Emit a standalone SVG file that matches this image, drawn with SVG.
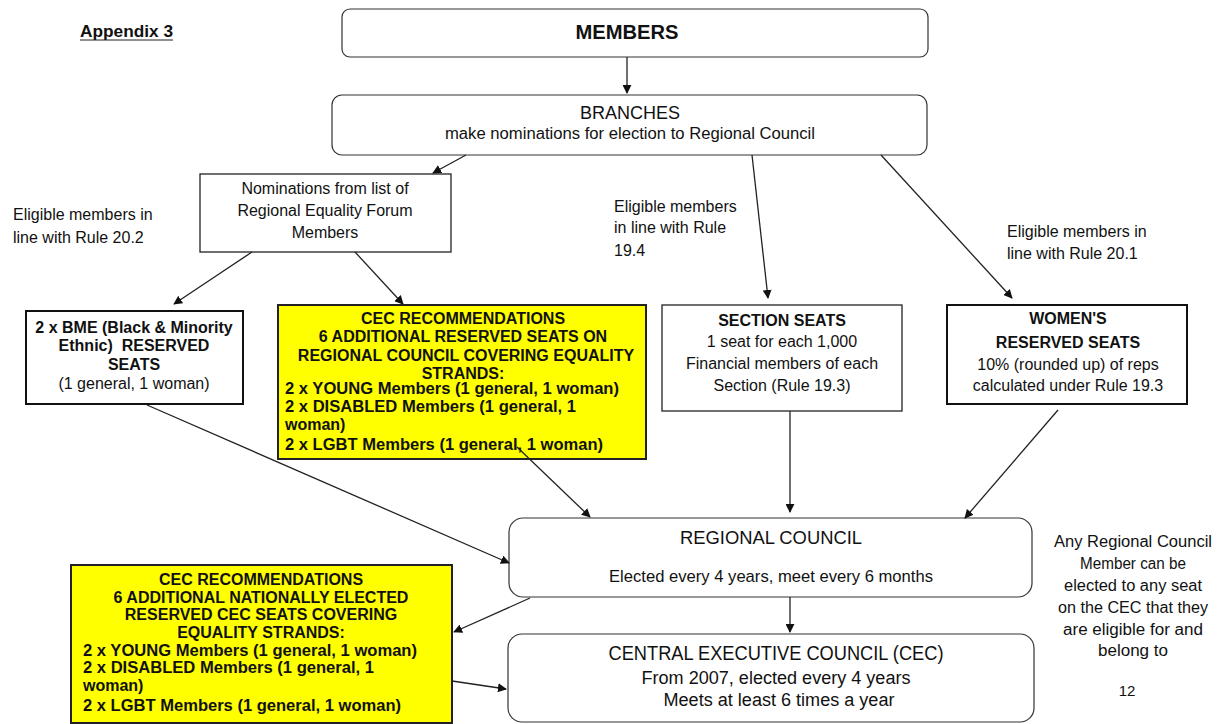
<svg xmlns="http://www.w3.org/2000/svg" width="1227" height="724" viewBox="0 0 1227 724">
<style>
  text { font-family: "Liberation Sans", Arial, sans-serif; fill: #111; }
  .b { font-weight: bold; }
  .c { text-anchor: middle; }
  .t14 { font-size: 16px; }
  .box { fill: #fff; stroke: #222; stroke-width: 1.3; }
  .boxT { fill: #fff; stroke: #111; stroke-width: 2; }
  .yel { fill: #ffff00; stroke: #222; stroke-width: 2; }
  .rbox { fill: #fff; stroke: #333; stroke-width: 1.2; }
  .conn line { stroke: #222; stroke-width: 1.3; marker-end: url(#arr); }
</style>
<defs>
  <marker id="arr" viewBox="0 0 10 10" refX="9" refY="5" markerWidth="9" markerHeight="9" markerUnits="userSpaceOnUse" orient="auto">
    <path d="M0,0 L10,5 L0,10 z" fill="#111"/>
  </marker>
</defs>
<rect width="1227" height="724" fill="#fff"/>

<g id="appendix">
  <text x="80" y="37" class="b" font-size="16" textLength="93" lengthAdjust="spacingAndGlyphs">Appendix 3</text>
  <line x1="80" y1="40" x2="173" y2="40" stroke="#222" stroke-width="1"/>
</g>

<g id="members">
  <rect x="342" y="9" width="586" height="48" rx="8" class="rbox"/>
  <text x="627" y="39" class="b c" font-size="20" textLength="103" lengthAdjust="spacingAndGlyphs">MEMBERS</text>
</g>

<g id="branches">
  <rect x="332" y="95" width="595" height="60" rx="10" class="rbox"/>
  <text x="630" y="119" class="c" font-size="18" textLength="100" lengthAdjust="spacingAndGlyphs">BRANCHES</text>
  <text x="630" y="139" class="c" font-size="16" textLength="370" lengthAdjust="spacingAndGlyphs">make nominations for election to Regional Council</text>
</g>

<g id="nominations">
  <rect x="200" y="174" width="251" height="78" class="box"/>
  <text x="325" y="194" class="c t14">Nominations from list of</text>
  <text x="325" y="216" class="c t14">Regional Equality Forum</text>
  <text x="325" y="238" class="c t14">Members</text>
</g>

<g id="label-20-2">
  <text x="13" y="220" class="t14">Eligible members in</text>
  <text x="13" y="243" class="t14">line with Rule 20.2</text>
</g>

<g id="label-19-4">
  <text x="614" y="212" class="t14">Eligible members</text>
  <text x="614" y="233" class="t14">in line with Rule</text>
  <text x="614" y="256" class="t14">19.4</text>
</g>

<g id="label-20-1">
  <text x="1007" y="237" class="t14">Eligible members in</text>
  <text x="1007" y="259" class="t14">line with Rule 20.1</text>
</g>

<g id="bme">
  <rect x="26" y="311" width="217" height="93" class="boxT"/>
  <text x="134" y="333" class="b c t14">2 x BME (Black &amp; Minority</text>
  <text x="134" y="351" class="b c t14">Ethnic)&#160; RESERVED</text>
  <text x="134" y="370" class="b c t14">SEATS</text>
  <text x="134" y="389" class="c t14">(1 general, 1 woman)</text>
</g>

<g id="cec-rec-regional">
  <rect x="278" y="305" width="368" height="154" class="yel"/>
  <text x="463" y="324" class="b c t14">CEC RECOMMENDATIONS</text>
  <text x="463" y="342" class="b c t14">6 ADDITIONAL RESERVED SEATS ON</text>
  <text x="466" y="361" class="b c t14">REGIONAL COUNCIL COVERING EQUALITY</text>
  <text x="463" y="379" class="b c t14">STRANDS:</text>
  <text x="285" y="394" class="b t14" textLength="334" lengthAdjust="spacingAndGlyphs">2 x YOUNG Members (1 general, 1 woman)</text>
  <text x="285" y="412" class="b t14" textLength="291" lengthAdjust="spacingAndGlyphs">2 x DISABLED Members (1 general, 1</text>
  <text x="285" y="430" class="b t14">woman)</text>
  <text x="285" y="450" class="b t14" textLength="318" lengthAdjust="spacingAndGlyphs">2 x LGBT Members (1 general, 1 woman)</text>
</g>

<g id="section-seats">
  <rect x="662" y="305" width="240" height="106" class="box"/>
  <text x="782" y="326" class="b c t14">SECTION SEATS</text>
  <text x="782" y="347" class="c t14">1 seat for each 1,000</text>
  <text x="782" y="369" class="c t14">Financial members of each</text>
  <text x="782" y="391" class="c t14">Section (Rule 19.3)</text>
</g>

<g id="womens-seats">
  <rect x="947" y="305" width="240" height="99" class="boxT"/>
  <text x="1068" y="324" class="b c t14">WOMEN'S</text>
  <text x="1068" y="348" class="b c t14">RESERVED SEATS</text>
  <text x="1068" y="370" class="c t14">10% (rounded up) of reps</text>
  <text x="1068" y="391" class="c t14">calculated under Rule 19.3</text>
</g>

<g id="regional-council">
  <rect x="509" y="518" width="523" height="79" rx="14" class="rbox"/>
  <text x="771" y="544" class="c" font-size="19" textLength="182" lengthAdjust="spacingAndGlyphs">REGIONAL COUNCIL</text>
  <text x="771" y="582" class="c" font-size="17" textLength="324" lengthAdjust="spacingAndGlyphs">Elected every 4 years, meet every 6 months</text>
</g>

<g id="cec">
  <rect x="508" y="634" width="526" height="88" rx="14" class="rbox"/>
  <text x="776" y="660" class="c" font-size="20" textLength="335" lengthAdjust="spacingAndGlyphs">CENTRAL EXECUTIVE COUNCIL (CEC)</text>
  <text x="776" y="684" class="c" font-size="18" textLength="269" lengthAdjust="spacingAndGlyphs">From 2007, elected every 4 years</text>
  <text x="779" y="706" class="c" font-size="18" textLength="231" lengthAdjust="spacingAndGlyphs">Meets at least 6 times a year</text>
</g>

<g id="cec-rec-national">
  <rect x="71" y="565" width="381" height="158" class="yel" stroke-width="1.5"/>
  <text x="261" y="585" class="b c t14">CEC RECOMMENDATIONS</text>
  <text x="261" y="603" class="b c t14">6 ADDITIONAL NATIONALLY ELECTED</text>
  <text x="261" y="620" class="b c t14">RESERVED CEC SEATS COVERING</text>
  <text x="261" y="638" class="b c t14">EQUALITY STRANDS:</text>
  <text x="83" y="656" class="b t14" textLength="334" lengthAdjust="spacingAndGlyphs">2 x YOUNG Members (1 general, 1 woman)</text>
  <text x="83" y="673" class="b t14" textLength="291" lengthAdjust="spacingAndGlyphs">2 x DISABLED Members (1 general, 1</text>
  <text x="83" y="691" class="b t14">woman)</text>
  <text x="83" y="711" class="b t14" textLength="318" lengthAdjust="spacingAndGlyphs">2 x LGBT Members (1 general, 1 woman)</text>
</g>

<g id="note">
  <text x="1133" y="547" class="c" font-size="16" textLength="158" lengthAdjust="spacingAndGlyphs">Any Regional Council</text>
  <text x="1133" y="569" class="c" font-size="16" textLength="106" lengthAdjust="spacingAndGlyphs">Member can be</text>
  <text x="1133" y="591" class="c" font-size="16" textLength="138" lengthAdjust="spacingAndGlyphs">elected to any seat</text>
  <text x="1133" y="613" class="c" font-size="16" textLength="150" lengthAdjust="spacingAndGlyphs">on the CEC that they</text>
  <text x="1133" y="635" class="c" font-size="16" textLength="140" lengthAdjust="spacingAndGlyphs">are eligible for and</text>
  <text x="1133" y="656" class="c" font-size="16" textLength="70" lengthAdjust="spacingAndGlyphs">belong to</text>
  <text x="1127" y="696" class="c" font-size="15">12</text>
</g>

<g id="connectors" class="conn">
  <line x1="627" y1="57" x2="627" y2="93"/>
  <line x1="466" y1="155" x2="433" y2="173"/>
  <line x1="752" y1="155" x2="768" y2="298"/>
  <line x1="881" y1="155" x2="1012" y2="298"/>
  <line x1="252" y1="252" x2="174" y2="304"/>
  <line x1="355" y1="252" x2="403" y2="304"/>
  <line x1="147" y1="405" x2="509" y2="563"/>
  <line x1="517" y1="447" x2="590" y2="517"/>
  <line x1="790" y1="411" x2="790" y2="512"/>
  <line x1="1058" y1="410" x2="965" y2="518"/>
  <line x1="790" y1="597" x2="790" y2="632"/>
  <line x1="530" y1="598" x2="454" y2="632"/>
  <line x1="452" y1="681" x2="506" y2="689"/>
</g>
</svg>
